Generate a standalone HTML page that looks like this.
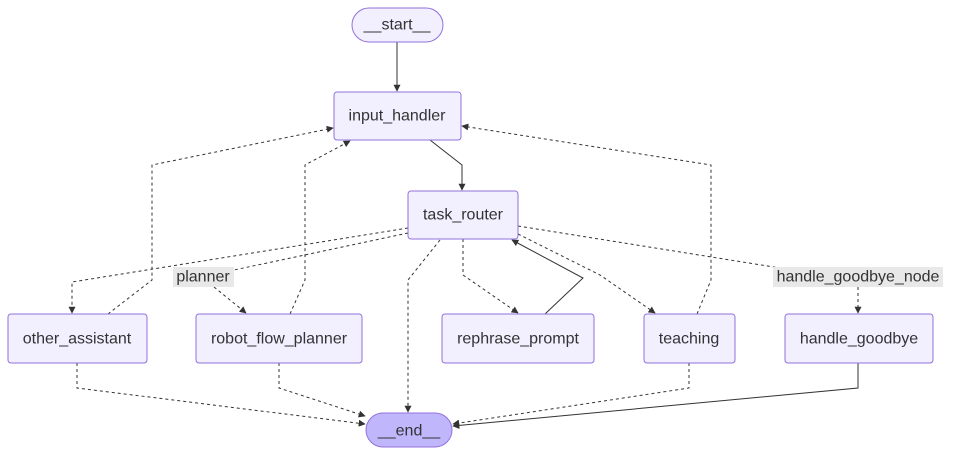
<!DOCTYPE html>
<html><head><meta charset="utf-8"><style>
body{margin:0;background:#fff;}
svg{display:block;font-family:"Liberation Sans",Arial,sans-serif;}
.n{fill:#f2f0ff;stroke:#9370db;stroke-width:1;}
.t{font-size:16px;fill:#333;text-anchor:middle;dominant-baseline:central;}
.s{fill:none;stroke:#333;stroke-width:1;}
.d{fill:none;stroke:#333;stroke-width:1;stroke-dasharray:3,3;}
.lb{fill:#e8e8e8;}
</style></head><body>
<svg width="953" height="456" viewBox="0 0 953 456">
<defs><marker id="a" viewBox="0 0 10 10" refX="9" refY="5" markerWidth="7" markerHeight="7" orient="auto"><path d="M0,0L10,5L0,10z" fill="#333"/></marker></defs>
<path class="s" d="M397,42V91" marker-end="url(#a)"/>
<path class="s" d="M430,140L462,165V190" marker-end="url(#a)"/>
<path class="d" d="M408,228L72,282V313" marker-end="url(#a)"/>
<path class="d" d="M408,233L234,270"/>
<path class="d" d="M214,287L246,313" marker-end="url(#a)"/>
<path class="d" d="M440,240L408,280V412" marker-end="url(#a)"/>
<path class="d" d="M463,239V275L518,313" marker-end="url(#a)"/>
<path class="s" d="M545,314L583,278L512,240" marker-end="url(#a)"/>
<path class="d" d="M518,234L600,275L655,313" marker-end="url(#a)"/>
<path class="d" d="M518,226L780,268"/>
<path class="d" d="M858,287V313" marker-end="url(#a)"/>
<path class="s" d="M858,363V388L453,426" marker-end="url(#a)"/>
<path class="d" d="M108,314L152,280V165L333,128" marker-end="url(#a)"/>
<path class="d" d="M290,314L305,280V165L350,141" marker-end="url(#a)"/>
<path class="d" d="M697,314L711,280V165L462,126" marker-end="url(#a)"/>
<path class="d" d="M77,363V388L365,424" marker-end="url(#a)"/>
<path class="d" d="M279,363V388L365,416" marker-end="url(#a)"/>
<path class="d" d="M689,363V388L453,424" marker-end="url(#a)"/>
<rect class="n" x="352" y="8" width="91" height="34" rx="17"/><text class="t" x="397" y="25">__start__</text>
<rect class="n" x="334" y="92" width="127" height="48" rx="3"/><text class="t" x="397" y="116">input_handler</text>
<rect class="n" x="408" y="191" width="110" height="48" rx="3"/><text class="t" x="463" y="215">task_router</text>
<rect class="n" x="8" y="314" width="139" height="49" rx="3"/><text class="t" x="77" y="339">other_assistant</text>
<rect class="n" x="196" y="314" width="166" height="49" rx="3"/><text class="t" x="279" y="339">robot_flow_planner</text>
<rect class="n" x="442" y="314" width="152" height="49" rx="3"/><text class="t" x="518" y="339">rephrase_prompt</text>
<rect class="n" x="644" y="314" width="91" height="49" rx="3"/><text class="t" x="689" y="339">teaching</text>
<rect class="n" x="785" y="314" width="148" height="49" rx="3"/><text class="t" x="859" y="339">handle_goodbye</text>
<rect x="366" y="413" width="86" height="34" rx="17" fill="#bfb6fc" stroke="#9370db"/><text class="t" x="409" y="431">__end__</text>
<rect class="lb" x="173" y="267" width="61" height="20"/><text class="t" x="203" y="277">planner</text>
<rect class="lb" x="773" y="267" width="170" height="20"/><text class="t" x="858" y="277">handle_goodbye_node</text>
</svg>
</body></html>
